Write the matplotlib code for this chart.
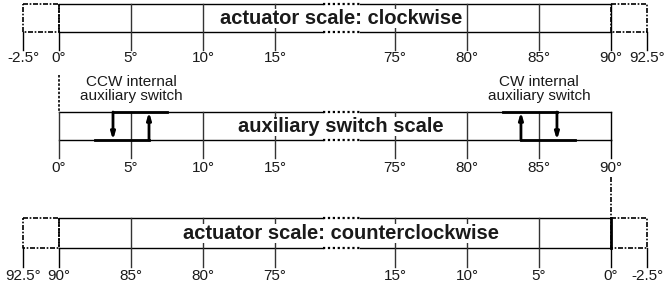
import matplotlib
matplotlib.use("Agg")
import matplotlib.pyplot as plt

plt.rcParams['font.family'] = ['Liberation Sans', 'DejaVu Sans']

# scale values (degrees)
top_ticks = [-2.5, 0, 5, 10, 15, 75, 80, 85, 90, 92.5]
aux_ticks = [0, 5, 10, 15, 75, 80, 85, 90]
bottom_ticks = [92.5, 90, 85, 80, 75, 15, 10, 5, 0, -2.5]

top_title = "actuator scale: clockwise"
aux_title = "auxiliary switch scale"
bottom_title = "actuator scale: counterclockwise"

# internal auxiliary switches: (upper line, lower line, down arrow, up arrow)
ccw_upper = (3.75, 7.5)
ccw_lower = (2.5, 6.25)
ccw_down = 3.75
ccw_up = 6.25
ccw_label = "CCW internal\nauxiliary switch"

cw_upper = (82.5, 86.25)
cw_lower = (83.75, 87.5)
cw_down = 86.25
cw_up = 83.75
cw_label = "CW internal\nauxiliary switch"

# broken axis: 0..15 then 75..90, with a dotted gap in between
OFFSET = 51.67
GAP = (18.3, 20.9)
END = 90 - OFFSET


def pos(d):
    return d if d < 45 else d - OFFSET


def pos_rev(d):
    return pos(90 - d)


fig = plt.figure(figsize=(6.64, 2.88), dpi=100)
ax = fig.add_axes([0, 0, 1, 1])
ax.set_xlim(-59 / 14.4, -59 / 14.4 + 664 / 14.4)
ax.set_ylim(288, 0)
ax.axis('off')

dashdot = (0, (3, 1, 1, 1))
txt = '#1a1a1a'


def rails(y):
    ax.plot([0, GAP[0]], [y, y], color='k', lw=1)
    ax.plot([GAP[0], GAP[1]], [y, y], color='k', lw=1.6, ls=(0, (1, 1.2)))
    ax.plot([GAP[1], END], [y, y], color='k', lw=1)


def scale(ytop, ybot, ytick, ylab, ticks, fx, title, boxes, right_lw=1.0):
    rails(ytop)
    rails(ybot)
    for t in ticks:
        x = fx(t)
        if x < -0.1 or x > END + 0.1:
            ax.plot([x, x], [ybot, ytick], color='k', lw=1)
        elif abs(x) < 0.1 and boxes:
            ax.plot([x, x], [ytop, ybot], color='k', lw=1.2, ls=dashdot)
            ax.plot([x, x], [ybot, ytick], color='k', lw=1)
        elif abs(x - END) < 0.1:
            ax.plot([x, x], [ytop, ybot], color='k', lw=right_lw)
            ax.plot([x, x], [ybot, ytick], color='k', lw=1)
        else:
            ax.plot([x, x], [ytop, ytick], color='#333333', lw=1)
        ax.text(x, ylab, f"{t:g}°", ha='center', va='center',
                fontsize=11, color=txt)
    if boxes:
        for a, b in [(-2.5, 0), (END, END + 2.5)]:
            ax.plot([a, b, b, a, a], [ytop, ytop, ybot, ybot, ytop],
                    color='k', lw=1.2, ls=dashdot)
    ax.text(19.6, (ytop + ybot) / 2 + 0.5, title, ha='center', va='center',
            fontsize=14.5, fontweight='bold', color=txt,
            bbox=dict(facecolor='white', edgecolor='none', pad=0))


def switch(upper, lower, down, up, y_up, y_lo):
    ax.plot([pos(upper[0]), pos(upper[1])], [y_up, y_up], color='k', lw=2)
    ax.plot([pos(lower[0]), pos(lower[1])], [y_lo, y_lo], color='k', lw=2)
    arrow = dict(arrowstyle='-|>,head_length=0.4,head_width=0.12',
                 color='k', lw=2, shrinkA=0, shrinkB=0)
    ax.annotate('', xy=(pos(down), y_lo), xytext=(pos(down), y_up), arrowprops=arrow)
    ax.annotate('', xy=(pos(up), y_up), xytext=(pos(up), y_lo), arrowprops=arrow)


# top: clockwise actuator scale
scale(4, 32, 50, 58, top_ticks, pos, top_title, True)

# middle: auxiliary switch scale
scale(112, 140, 158, 168, aux_ticks, pos, aux_title, False)
ax.plot([0, 0], [75, 112], color='k', lw=1.2, ls=(0, (1.5, 1)))
ax.text(pos(5), 89, ccw_label, ha='center', va='center', fontsize=11,
        color=txt, linespacing=0.95)
ax.text(pos(85), 89, cw_label, ha='center', va='center', fontsize=11,
        color=txt, linespacing=0.95)
switch(ccw_upper, ccw_lower, ccw_down, ccw_up, 112, 140)
switch(cw_upper, cw_lower, cw_down, cw_up, 112, 140)

# bottom: counterclockwise actuator scale
ax.plot([END, END], [177, 218], color='k', lw=1.2, ls=dashdot)
scale(218, 248, 267, 276, bottom_ticks, pos_rev, bottom_title, True, right_lw=2)

fig.savefig('out.png', dpi=100)
